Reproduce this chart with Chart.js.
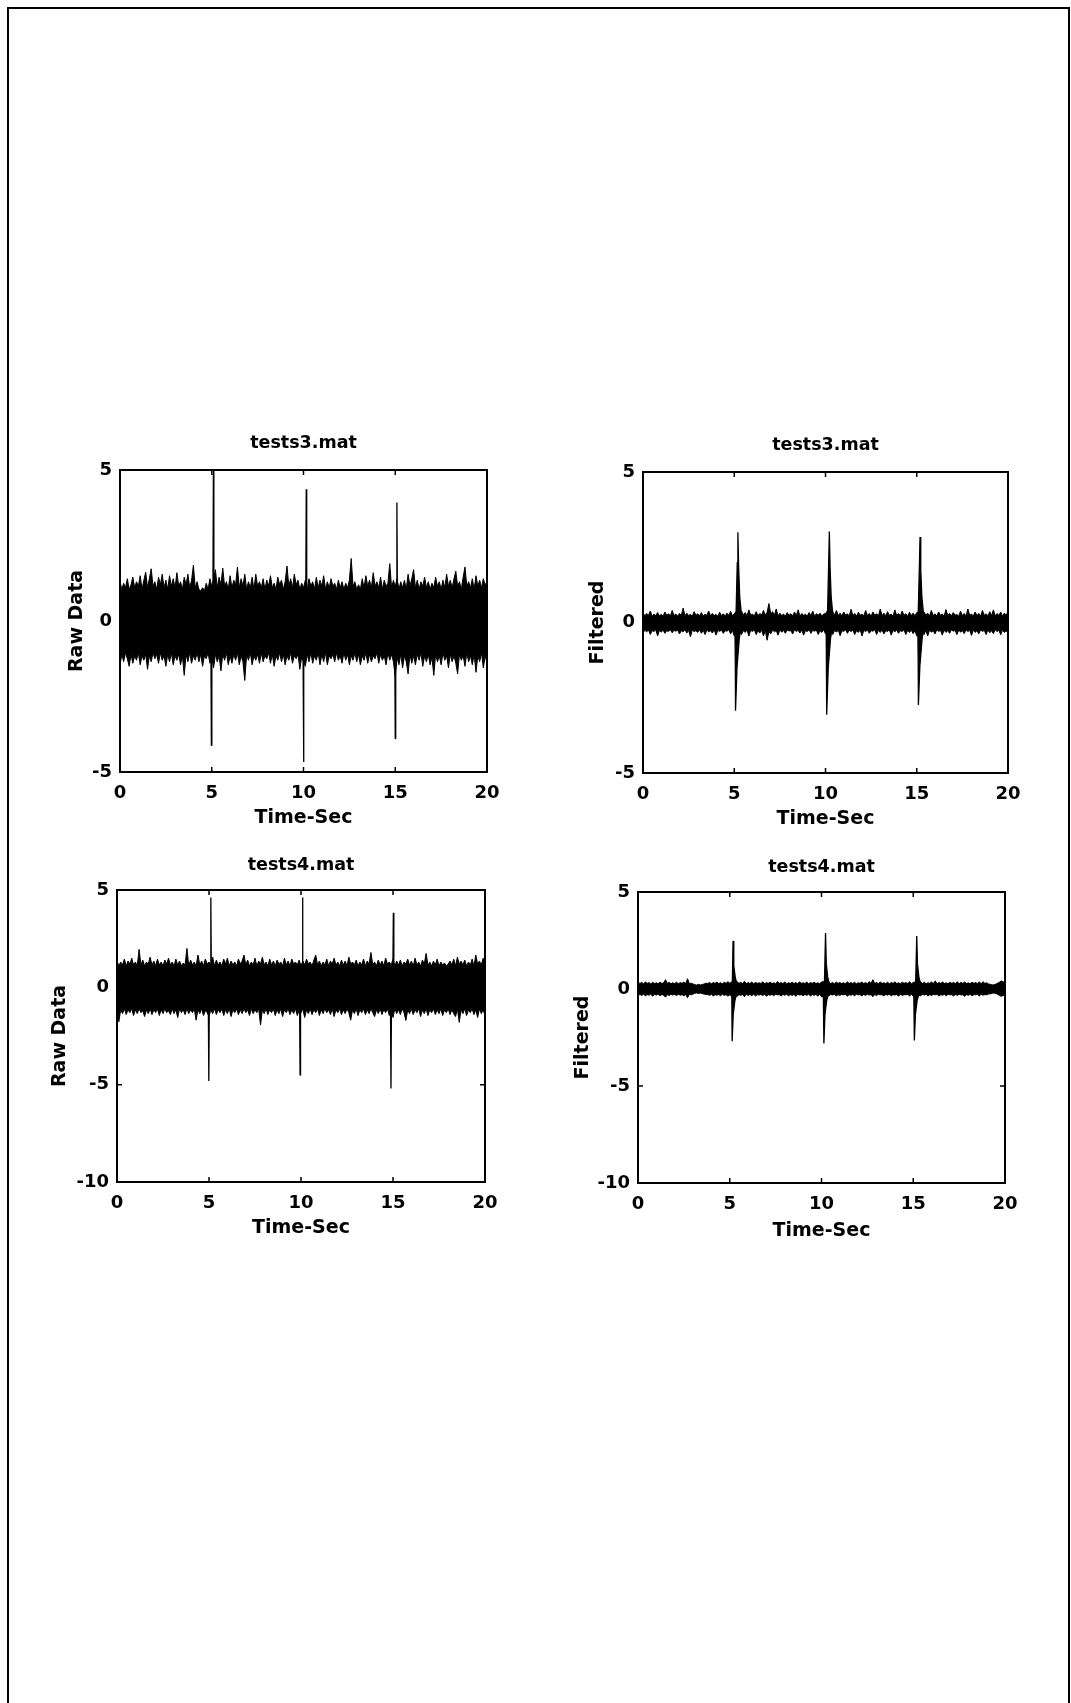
<!DOCTYPE html>
<html>
<head>
<meta charset="utf-8">
<title>tests3 / tests4 – raw and filtered</title>
<script src="https://cdn.jsdelivr.net/npm/chart.js@4.4.1/dist/chart.umd.min.js"></script>
<style>
  html, body { margin: 0; padding: 0; background: #fff; }
  body { width: 1071px; height: 1703px; overflow: hidden; position: relative; }
  #frame { position: absolute; left: 7px; top: 7px; width: 1063px; height: 1740px;
           border: 2px solid #000; box-sizing: border-box; }
  canvas.panel { position: absolute; }
</style>
</head>
<body>
<div id="frame"></div>
<canvas id="raw3" class="panel"></canvas>
<canvas id="filt3" class="panel"></canvas>
<canvas id="raw4" class="panel"></canvas>
<canvas id="filt4" class="panel"></canvas>
<script>
// ---- sample grid (seconds) for the noise-band envelopes ----
const sampleTimes = [
  0.0, 0.1, 0.2, 0.3, 0.4, 0.5, 0.6, 0.7, 0.8, 0.9,
  1.0, 1.1, 1.2, 1.3, 1.4, 1.5, 1.6, 1.7, 1.8, 1.9,
  2.0, 2.1, 2.2, 2.3, 2.4, 2.5, 2.6, 2.7, 2.8, 2.9,
  3.0, 3.1, 3.2, 3.3, 3.4, 3.5, 3.6, 3.7, 3.8, 3.9,
  4.0, 4.1, 4.2, 4.3, 4.4, 4.5, 4.6, 4.7, 4.8, 4.9,
  5.0, 5.1, 5.2, 5.3, 5.4, 5.5, 5.6, 5.7, 5.8, 5.9,
  6.0, 6.1, 6.2, 6.3, 6.4, 6.5, 6.6, 6.7, 6.8, 6.9,
  7.0, 7.1, 7.2, 7.3, 7.4, 7.5, 7.6, 7.7, 7.8, 7.9,
  8.0, 8.1, 8.2, 8.3, 8.4, 8.5, 8.6, 8.7, 8.8, 8.9,
  9.0, 9.1, 9.2, 9.3, 9.4, 9.5, 9.6, 9.7, 9.8, 9.9,
  10.0, 10.1, 10.2, 10.3, 10.4, 10.5, 10.6, 10.7, 10.8, 10.9,
  11.0, 11.1, 11.2, 11.3, 11.4, 11.5, 11.6, 11.7, 11.8, 11.9,
  12.0, 12.1, 12.2, 12.3, 12.4, 12.5, 12.6, 12.7, 12.8, 12.9,
  13.0, 13.1, 13.2, 13.3, 13.4, 13.5, 13.6, 13.7, 13.8, 13.9,
  14.0, 14.1, 14.2, 14.3, 14.4, 14.5, 14.6, 14.7, 14.8, 14.9,
  15.0, 15.1, 15.2, 15.3, 15.4, 15.5, 15.6, 15.7, 15.8, 15.9,
  16.0, 16.1, 16.2, 16.3, 16.4, 16.5, 16.6, 16.7, 16.8, 16.9,
  17.0, 17.1, 17.2, 17.3, 17.4, 17.5, 17.6, 17.7, 17.8, 17.9,
  18.0, 18.1, 18.2, 18.3, 18.4, 18.5, 18.6, 18.7, 18.8, 18.9,
  19.0, 19.1, 19.2, 19.3, 19.4, 19.5, 19.6, 19.7, 19.8, 19.9, 20.0
];

// ---- tick labels ----
const timeTicks = [0, 5, 10, 15, 20];
const ampTicksShort = [-5, 0, 5];
const ampTicksLong = [-10, -5, 0, 5];

// ---- tests3.mat, raw data: upper / lower edge of the noise band ----
const raw3Upper = [
  1.30, 1.05, 1.25, 1.10, 1.40, 1.05, 1.20, 1.45, 1.10, 1.30,
  1.15, 1.50, 1.05, 1.35, 1.62, 1.10, 1.40, 1.73, 1.15, 1.30,
  1.05, 1.45, 1.20, 1.55, 1.10, 1.35, 1.05, 1.50, 1.15, 1.40,
  1.10, 1.60, 1.15, 1.30, 1.05, 1.45, 1.20, 1.55, 1.10, 1.35,
  1.85, 1.10, 1.30, 1.05, 1.00, 1.10, 1.00, 1.25, 1.05, 1.40,
  1.15, 1.35, 1.70, 1.10, 1.45, 1.20, 1.75, 1.15, 1.30, 1.05,
  1.50, 1.10, 1.35, 1.20, 1.79, 1.10, 1.40, 1.15, 1.55, 1.05,
  1.30, 1.10, 1.45, 1.05, 1.55, 1.15, 1.30, 1.10, 1.40, 1.05,
  1.35, 1.15, 1.50, 1.10, 1.25, 1.05, 1.45, 1.20, 1.35, 1.05,
  1.30, 1.82, 1.15, 1.40, 1.10, 1.55, 1.20, 1.35, 1.05, 1.25,
  1.10, 1.35, 1.05, 1.40, 1.15, 1.30, 1.05, 1.45, 1.10, 1.35,
  1.15, 1.50, 1.05, 1.30, 1.10, 1.40, 1.15, 1.25, 1.05, 1.35,
  1.10, 1.30, 1.05, 1.25, 1.10, 1.35, 2.07, 1.15, 1.30, 1.05,
  1.20, 1.05, 1.40, 1.10, 1.50, 1.15, 1.35, 1.10, 1.60, 1.15,
  1.30, 1.10, 1.45, 1.05, 1.35, 1.15, 1.25, 1.90, 1.10, 1.35,
  1.15, 1.40, 1.05, 1.30, 1.10, 1.35, 1.05, 1.55, 1.15, 1.40,
  1.70, 1.10, 1.35, 1.05, 1.30, 1.15, 1.45, 1.10, 1.30, 1.05,
  1.25, 1.10, 1.45, 1.15, 1.30, 1.05, 1.35, 1.10, 1.55, 1.15,
  1.35, 1.10, 1.40, 1.65, 1.15, 1.30, 1.05, 1.45, 1.79, 1.15,
  1.30, 1.10, 1.40, 1.05, 1.50, 1.15, 1.35, 1.10, 1.40, 1.20, 1.30
];
const raw3Lower = [
  -1.47, -1.10, -1.35, -1.05, -1.25, -1.50, -1.10, -1.40, -1.15, -1.30,
  -1.05, -1.45, -1.15, -1.30, -1.10, -1.60, -1.15, -1.35, -1.05, -1.25,
  -1.10, -1.40, -1.05, -1.30, -1.15, -1.50, -1.10, -1.35, -1.05, -1.45,
  -1.15, -1.30, -1.10, -1.45, -1.15, -1.80, -1.10, -1.35, -1.05, -1.40,
  -1.15, -1.30, -1.05, -1.35, -1.10, -1.50, -1.15, -1.25, -1.05, -1.40,
  -1.20, -1.55, -1.10, -1.35, -1.15, -1.65, -1.10, -1.30, -1.05, -1.45,
  -1.15, -1.40, -1.10, -1.30, -1.05, -1.45, -1.15, -1.35, -1.97, -1.10,
  -1.30, -1.05, -1.45, -1.15, -1.30, -1.10, -1.40, -1.05, -1.35, -1.15,
  -1.25, -1.05, -1.40, -1.10, -1.50, -1.15, -1.30, -1.05, -1.35, -1.10,
  -1.45, -1.15, -1.30, -1.05, -1.40, -1.15, -1.25, -1.10, -1.60, -1.20,
  -1.35, -1.50, -1.10, -1.35, -1.05, -1.40, -1.15, -1.30, -1.05, -1.45,
  -1.10, -1.35, -1.05, -1.45, -1.15, -1.25, -1.10, -1.35, -1.05, -1.30,
  -1.15, -1.40, -1.05, -1.30, -1.10, -1.45, -1.15, -1.30, -1.05, -1.35,
  -1.10, -1.45, -1.15, -1.30, -1.05, -1.40, -1.10, -1.35, -1.15, -1.25,
  -1.05, -1.40, -1.10, -1.30, -1.15, -1.45, -1.05, -1.30, -1.10, -1.35,
  -1.85, -1.20, -1.45, -1.10, -1.55, -1.15, -1.35, -1.75, -1.10, -1.40,
  -1.15, -1.45, -1.10, -1.30, -1.05, -1.50, -1.15, -1.35, -1.10, -1.45,
  -1.20, -1.80, -1.10, -1.35, -1.15, -1.45, -1.05, -1.30, -1.15, -1.55,
  -1.10, -1.35, -1.15, -1.40, -1.75, -1.10, -1.30, -1.15, -1.50, -1.05,
  -1.35, -1.15, -1.45, -1.10, -1.70, -1.15, -1.35, -1.05, -1.55, -1.15, -1.40
];
// spike outlines: vertex times and values, one list per spike
const raw3SpikeT = [
  [4.955, 4.98, 5.005], [5.065, 5.09, 5.115],
  [9.975, 10.00, 10.025], [10.125, 10.15, 10.175],
  [14.975, 15.00, 15.025], [15.065, 15.09, 15.115]
];
const raw3SpikeV = [
  [-1.0, -4.12, -1.0], [1.0, 5.0, 1.0],
  [-1.0, -4.67, -1.0], [1.0, 4.36, 1.0],
  [-1.0, -3.89, -1.0], [1.0, 3.92, 1.0]
];

// ---- tests3.mat, filtered ----
const filt3Upper = [
  0.32, 0.22, 0.30, 0.24, 0.38, 0.21, 0.28, 0.23, 0.33, 0.22,
  0.27, 0.21, 0.35, 0.24, 0.29, 0.22, 0.40, 0.23, 0.28, 0.21,
  0.30, 0.24, 0.48, 0.22, 0.31, 0.23, 0.27, 0.21, 0.36, 0.24,
  0.29, 0.22, 0.33, 0.21, 0.28, 0.24, 0.38, 0.22, 0.30, 0.23,
  0.27, 0.21, 0.34, 0.23, 0.29, 0.22, 0.31, 0.24, 0.37, 0.22,
  0.30, 0.35, 0.55, 0.30, 0.38, 0.25, 0.33, 0.22, 0.42, 0.24,
  0.28, 0.22, 0.36, 0.23, 0.30, 0.25, 0.40, 0.24, 0.34, 0.63,
  0.28, 0.36, 0.24, 0.45, 0.22, 0.31, 0.23, 0.28, 0.21, 0.33,
  0.24, 0.29, 0.22, 0.35, 0.23, 0.42, 0.21, 0.30, 0.24, 0.27,
  0.22, 0.33, 0.23, 0.38, 0.21, 0.29, 0.24, 0.31, 0.22, 0.28,
  0.30, 0.38, 0.50, 0.28, 0.36, 0.24, 0.40, 0.23, 0.31, 0.22,
  0.35, 0.24, 0.29, 0.22, 0.44, 0.23, 0.30, 0.21, 0.34, 0.24,
  0.28, 0.22, 0.40, 0.23, 0.30, 0.21, 0.35, 0.24, 0.29, 0.22,
  0.45, 0.23, 0.31, 0.22, 0.36, 0.24, 0.28, 0.21, 0.42, 0.23,
  0.30, 0.22, 0.38, 0.24, 0.29, 0.21, 0.34, 0.23, 0.31, 0.22,
  0.33, 0.36, 0.52, 0.28, 0.35, 0.24, 0.31, 0.22, 0.40, 0.23,
  0.29, 0.22, 0.35, 0.24, 0.28, 0.21, 0.43, 0.23, 0.30, 0.22,
  0.33, 0.24, 0.27, 0.21, 0.38, 0.23, 0.30, 0.22, 0.45, 0.24,
  0.28, 0.22, 0.35, 0.23, 0.30, 0.21, 0.40, 0.24, 0.29, 0.22,
  0.36, 0.23, 0.42, 0.22, 0.30, 0.24, 0.35, 0.21, 0.31, 0.23, 0.38
];
const filt3Lower = [
  -0.34, -0.26, -0.31, -0.25, -0.40, -0.27, -0.30, -0.24, -0.45, -0.26,
  -0.32, -0.25, -0.36, -0.27, -0.30, -0.24, -0.34, -0.26, -0.29, -0.25,
  -0.38, -0.27, -0.31, -0.24, -0.35, -0.26, -0.48, -0.25, -0.30, -0.27,
  -0.33, -0.24, -0.36, -0.26, -0.40, -0.25, -0.31, -0.27, -0.35, -0.24,
  -0.42, -0.26, -0.30, -0.25, -0.36, -0.27, -0.29, -0.24, -0.38, -0.26,
  -0.45, -0.40, -0.50, -0.32, -0.40, -0.27, -0.33, -0.25, -0.45, -0.26,
  -0.30, -0.24, -0.40, -0.27, -0.35, -0.25, -0.45, -0.26, -0.59, -0.30,
  -0.38, -0.25, -0.31, -0.27, -0.42, -0.24, -0.32, -0.26, -0.36, -0.25,
  -0.28, -0.27, -0.38, -0.24, -0.30, -0.26, -0.35, -0.25, -0.42, -0.27,
  -0.30, -0.24, -0.36, -0.26, -0.29, -0.25, -0.40, -0.27, -0.33, -0.24,
  -0.38, -0.42, -0.50, -0.30, -0.40, -0.26, -0.32, -0.25, -0.44, -0.27,
  -0.30, -0.24, -0.36, -0.26, -0.30, -0.25, -0.40, -0.27, -0.33, -0.24,
  -0.45, -0.26, -0.30, -0.25, -0.36, -0.27, -0.29, -0.24, -0.40, -0.26,
  -0.33, -0.25, -0.38, -0.27, -0.30, -0.24, -0.42, -0.26, -0.31, -0.25,
  -0.36, -0.27, -0.30, -0.24, -0.40, -0.26, -0.33, -0.25, -0.37, -0.27,
  -0.45, -0.42, -0.50, -0.30, -0.40, -0.26, -0.45, -0.25, -0.32, -0.27,
  -0.38, -0.24, -0.30, -0.26, -0.42, -0.25, -0.33, -0.27, -0.36, -0.24,
  -0.29, -0.26, -0.40, -0.25, -0.32, -0.27, -0.37, -0.24, -0.30, -0.26,
  -0.43, -0.25, -0.33, -0.27, -0.38, -0.24, -0.30, -0.26, -0.40, -0.25,
  -0.34, -0.27, -0.37, -0.24, -0.30, -0.26, -0.41, -0.25, -0.33, -0.27, -0.36
];
const filt3SpikeT = [
  [5.10, 5.165, 5.20, 5.24, 5.30, 5.38], [5.04, 5.06, 5.07, 5.15, 5.28, 5.34],
  [10.11, 10.175, 10.21, 10.25, 10.31, 10.39], [10.04, 10.06, 10.07, 10.15, 10.28, 10.34],
  [15.08, 15.145, 15.18, 15.22, 15.28, 15.36], [15.06, 15.08, 15.09, 15.17, 15.30, 15.36]
];
const filt3SpikeV = [
  [0.3, 2.0, 3.00, 1.85, 0.85, 0.35], [-0.3, -1.5, -2.93, -1.5, -0.5, -0.3],
  [0.3, 2.0, 3.02, 1.85, 0.85, 0.35], [-0.3, -1.5, -3.06, -1.5, -0.5, -0.3],
  [0.3, 1.9, 2.84, 1.75, 0.85, 0.35], [-0.3, -1.4, -2.74, -1.45, -0.5, -0.3]
];

// ---- tests4.mat, raw data ----
const raw4Upper = [
  1.35, 1.10, 1.30, 1.15, 1.45, 1.10, 1.35, 1.20, 1.50, 1.15,
  1.30, 1.10, 1.95, 1.15, 1.40, 1.10, 1.30, 1.20, 1.55, 1.15,
  1.35, 1.10, 1.45, 1.15, 1.30, 1.10, 1.40, 1.20, 1.50, 1.15,
  1.30, 1.10, 1.45, 1.15, 1.35, 1.10, 1.25, 1.15, 2.00, 1.10,
  1.40, 1.15, 1.30, 1.10, 1.66, 1.15, 1.35, 1.10, 1.45, 1.20,
  1.30, 1.15, 1.55, 1.10, 1.40, 1.15, 1.30, 1.10, 1.45, 1.20,
  1.50, 1.10, 1.35, 1.15, 1.30, 1.10, 1.45, 1.20, 1.35, 1.66,
  1.15, 1.40, 1.10, 1.30, 1.15, 1.50, 1.10, 1.35, 1.20, 1.55,
  1.15, 1.30, 1.10, 1.45, 1.15, 1.35, 1.10, 1.40, 1.20, 1.30,
  1.10, 1.50, 1.15, 1.35, 1.10, 1.45, 1.20, 1.30, 1.15, 1.40,
  1.10, 1.35, 1.15, 1.45, 1.20, 1.30, 1.10, 1.40, 1.66, 1.15,
  1.35, 1.10, 1.30, 1.15, 1.45, 1.10, 1.35, 1.20, 1.50, 1.15,
  1.30, 1.10, 1.40, 1.15, 1.35, 1.10, 1.55, 1.20, 1.30, 1.15,
  1.40, 1.10, 1.30, 1.15, 1.45, 1.10, 1.35, 1.20, 1.79, 1.15,
  1.30, 1.10, 1.40, 1.15, 1.35, 1.10, 1.50, 1.20, 1.30, 1.15,
  1.45, 1.10, 1.35, 1.15, 1.40, 1.10, 1.30, 1.20, 1.45, 1.15,
  1.35, 1.10, 1.50, 1.15, 1.30, 1.10, 1.40, 1.20, 1.74, 1.15,
  1.30, 1.10, 1.35, 1.15, 1.45, 1.10, 1.30, 1.15, 1.25, 1.10,
  1.20, 1.35, 1.15, 1.45, 1.10, 1.55, 1.20, 1.35, 1.15, 1.40,
  1.10, 1.30, 1.15, 1.45, 1.10, 1.66, 1.20, 1.35, 1.15, 1.50, 1.35
];
const raw4Lower = [
  -1.45, -1.77, -1.15, -1.35, -1.10, -1.40, -1.15, -1.30, -1.10, -1.45,
  -1.15, -1.35, -1.10, -1.30, -1.20, -1.50, -1.15, -1.35, -1.10, -1.40,
  -1.15, -1.30, -1.10, -1.45, -1.15, -1.35, -1.10, -1.30, -1.20, -1.40,
  -1.10, -1.35, -1.15, -1.55, -1.10, -1.30, -1.15, -1.40, -1.10, -1.35,
  -1.15, -1.30, -1.10, -1.69, -1.15, -1.35, -1.10, -1.45, -1.20, -1.30,
  -1.50, -1.15, -1.35, -1.10, -1.40, -1.15, -1.30, -1.10, -1.45, -1.15,
  -1.35, -1.10, -1.50, -1.15, -1.30, -1.10, -1.40, -1.15, -1.35, -1.10,
  -1.30, -1.15, -1.45, -1.10, -1.35, -1.15, -1.30, -1.10, -1.94, -1.15,
  -1.35, -1.10, -1.40, -1.15, -1.30, -1.10, -1.45, -1.15, -1.35, -1.10,
  -1.50, -1.15, -1.30, -1.10, -1.40, -1.15, -1.35, -1.10, -1.45, -1.15,
  -1.30, -1.10, -1.55, -1.15, -1.35, -1.10, -1.40, -1.15, -1.30, -1.10,
  -1.45, -1.15, -1.35, -1.10, -1.30, -1.15, -1.40, -1.10, -1.50, -1.15,
  -1.30, -1.10, -1.40, -1.15, -1.35, -1.10, -1.30, -1.69, -1.15, -1.35,
  -1.10, -1.45, -1.15, -1.30, -1.10, -1.40, -1.15, -1.35, -1.10, -1.30,
  -1.50, -1.15, -1.35, -1.10, -1.40, -1.15, -1.30, -1.10, -1.45, -1.15,
  -1.55, -1.10, -1.35, -1.15, -1.40, -1.10, -1.30, -1.70, -1.15, -1.35,
  -1.10, -1.40, -1.15, -1.30, -1.10, -1.50, -1.15, -1.35, -1.10, -1.45,
  -1.15, -1.30, -1.10, -1.40, -1.15, -1.35, -1.10, -1.45, -1.15, -1.30,
  -1.10, -1.40, -1.15, -1.35, -1.50, -1.10, -1.80, -1.15, -1.35, -1.10,
  -1.45, -1.15, -1.30, -1.10, -1.40, -1.15, -1.55, -1.10, -1.35, -1.15, -1.45
];
const raw4SpikeT = [
  [4.965, 4.99, 5.015], [5.075, 5.10, 5.125],
  [9.925, 9.95, 9.975], [10.055, 10.08, 10.105],
  [14.865, 14.89, 14.915], [14.995, 15.02, 15.045]
];
const raw4SpikeV = [
  [-1.0, -4.81, -1.0], [1.0, 4.62, 1.0],
  [-1.0, -4.51, -1.0], [1.0, 4.62, 1.0],
  [-1.0, -5.20, -1.0], [1.0, 3.83, 1.0]
];

// ---- tests4.mat, filtered ----
const filt4Upper = [
  0.38, 0.28, 0.34, 0.27, 0.36, 0.29, 0.33, 0.26, 0.35, 0.28,
  0.32, 0.27, 0.36, 0.28, 0.33, 0.48, 0.29, 0.34, 0.27, 0.32,
  0.28, 0.35, 0.27, 0.33, 0.29, 0.36, 0.28, 0.53, 0.27, 0.30,
  0.26, 0.22, 0.20, 0.24, 0.21, 0.23, 0.26, 0.30, 0.28, 0.34,
  0.27, 0.33, 0.29, 0.36, 0.28, 0.32, 0.27, 0.35, 0.29, 0.38,
  0.30, 0.36, 0.45, 0.33, 0.38, 0.29, 0.34, 0.28, 0.40, 0.27,
  0.33, 0.28, 0.36, 0.27, 0.34, 0.29, 0.32, 0.28, 0.37, 0.27,
  0.33, 0.29, 0.35, 0.28, 0.32, 0.27, 0.38, 0.29, 0.33, 0.28,
  0.36, 0.27, 0.32, 0.29, 0.35, 0.28, 0.33, 0.27, 0.37, 0.29,
  0.32, 0.28, 0.36, 0.27, 0.33, 0.29, 0.35, 0.28, 0.32, 0.27,
  0.36, 0.38, 0.45, 0.33, 0.37, 0.28, 0.34, 0.27, 0.36, 0.29,
  0.33, 0.28, 0.32, 0.27, 0.37, 0.29, 0.33, 0.28, 0.35, 0.27,
  0.32, 0.29, 0.36, 0.28, 0.33, 0.27, 0.38, 0.29, 0.48, 0.28,
  0.34, 0.27, 0.36, 0.29, 0.32, 0.28, 0.35, 0.27, 0.33, 0.29,
  0.37, 0.28, 0.32, 0.27, 0.35, 0.29, 0.33, 0.28, 0.38, 0.27,
  0.34, 0.36, 0.45, 0.33, 0.37, 0.28, 0.35, 0.27, 0.32, 0.29,
  0.36, 0.28, 0.42, 0.27, 0.33, 0.29, 0.36, 0.28, 0.32, 0.27,
  0.35, 0.29, 0.33, 0.28, 0.38, 0.27, 0.34, 0.29, 0.36, 0.28,
  0.32, 0.27, 0.35, 0.29, 0.33, 0.28, 0.37, 0.27, 0.38, 0.29,
  0.32, 0.26, 0.24, 0.21, 0.22, 0.25, 0.30, 0.35, 0.42, 0.36, 0.38
];
const filt4Lower = [
  -0.36, -0.28, -0.33, -0.27, -0.35, -0.29, -0.32, -0.26, -0.37, -0.28,
  -0.31, -0.27, -0.35, -0.28, -0.32, -0.42, -0.29, -0.33, -0.27, -0.31,
  -0.28, -0.34, -0.27, -0.32, -0.29, -0.35, -0.28, -0.45, -0.27, -0.30,
  -0.26, -0.22, -0.20, -0.23, -0.21, -0.24, -0.26, -0.29, -0.28, -0.33,
  -0.27, -0.36, -0.29, -0.32, -0.28, -0.35, -0.27, -0.33, -0.29, -0.37,
  -0.30, -0.36, -0.42, -0.35, -0.38, -0.29, -0.33, -0.28, -0.40, -0.27,
  -0.33, -0.28, -0.35, -0.27, -0.36, -0.29, -0.31, -0.28, -0.34, -0.27,
  -0.37, -0.29, -0.32, -0.28, -0.35, -0.27, -0.30, -0.29, -0.36, -0.28,
  -0.32, -0.27, -0.35, -0.29, -0.33, -0.28, -0.38, -0.27, -0.31, -0.29,
  -0.35, -0.28, -0.33, -0.27, -0.36, -0.29, -0.32, -0.28, -0.37, -0.27,
  -0.40, -0.38, -0.42, -0.33, -0.36, -0.28, -0.31, -0.27, -0.36, -0.29,
  -0.33, -0.28, -0.30, -0.27, -0.37, -0.29, -0.32, -0.28, -0.35, -0.27,
  -0.30, -0.29, -0.36, -0.28, -0.33, -0.27, -0.31, -0.29, -0.40, -0.28,
  -0.34, -0.27, -0.30, -0.29, -0.36, -0.28, -0.32, -0.27, -0.35, -0.29,
  -0.31, -0.28, -0.37, -0.27, -0.33, -0.29, -0.30, -0.28, -0.36, -0.27,
  -0.38, -0.40, -0.43, -0.33, -0.35, -0.28, -0.31, -0.27, -0.36, -0.29,
  -0.33, -0.28, -0.30, -0.27, -0.37, -0.29, -0.32, -0.28, -0.35, -0.27,
  -0.30, -0.29, -0.36, -0.28, -0.33, -0.27, -0.31, -0.29, -0.38, -0.28,
  -0.33, -0.27, -0.35, -0.29, -0.30, -0.28, -0.36, -0.27, -0.32, -0.29,
  -0.30, -0.26, -0.25, -0.22, -0.21, -0.23, -0.28, -0.33, -0.38, -0.33, -0.36
];
const filt4SpikeT = [
  [5.14, 5.18, 5.22, 5.30, 5.38], [5.11, 5.13, 5.19, 5.28, 5.36],
  [10.16, 10.22, 10.26, 10.34, 10.42], [10.10, 10.13, 10.19, 10.28, 10.36],
  [15.13, 15.19, 15.23, 15.31, 15.39], [15.03, 15.06, 15.12, 15.21, 15.30]
];
const filt4SpikeV = [
  [0.3, 2.48, 1.2, 0.6, 0.3], [-0.3, -2.69, -1.3, -0.6, -0.3],
  [0.3, 2.89, 1.3, 0.6, 0.3], [-0.3, -2.81, -1.3, -0.6, -0.3],
  [0.3, 2.73, 1.3, 0.6, 0.3], [-0.3, -2.65, -1.3, -0.6, -0.3]
];

// ---------------------------------------------------------------
const FONT = 'DejaVu Sans';
const TICK_FONT = { family: FONT, size: 18, weight: 'bold', lineHeight: 1.2 };
const TITLE_FONT = { family: FONT, size: 17.5, weight: 'bold', lineHeight: 1.2 };
const AXIS_FONT = { family: FONT, size: 19, weight: 'bold', lineHeight: 1.2 };

// room around each plot box inside its canvas
const PAD_L = 80, PAD_T = 50, PAD_R = 30, PAD_B = 70;

function points(times, values) {
  return times.map((t, i) => ({ x: t, y: values[i] }));
}

// plot frame with inward tick marks on all four sides
const boxPlugin = {
  id: 'box',
  afterDatasetsDraw(chart) {
    const { ctx, chartArea: { left, top, right, bottom }, scales: { x, y } } = chart;
    ctx.save();
    ctx.strokeStyle = '#000';
    ctx.lineWidth = 2;
    ctx.strokeRect(left, top, right - left, bottom - top);
    ctx.lineWidth = 1.5;
    ctx.beginPath();
    x.ticks.forEach(t => {
      const px = x.getPixelForValue(t.value);
      ctx.moveTo(px, bottom); ctx.lineTo(px, bottom - 5);
      ctx.moveTo(px, top); ctx.lineTo(px, top + 5);
    });
    y.ticks.forEach(t => {
      const py = y.getPixelForValue(t.value);
      ctx.moveTo(left, py); ctx.lineTo(left + 5, py);
      ctx.moveTo(right, py); ctx.lineTo(right - 5, py);
    });
    ctx.stroke();
    ctx.restore();
  }
};

function makePanel(p) {
  const canvas = document.getElementById(p.id);
  const w = p.R - p.L + PAD_L + PAD_R;
  const h = p.B - p.T + PAD_T + PAD_B;
  canvas.width = w; canvas.height = h;
  canvas.style.width = w + 'px'; canvas.style.height = h + 'px';
  canvas.style.left = (p.L - PAD_L) + 'px';
  canvas.style.top = (p.T - PAD_T) + 'px';

  const titleLH = TITLE_FONT.size * TITLE_FONT.lineHeight;
  const axisLH = AXIS_FONT.size * AXIS_FONT.lineHeight;
  const titleTop = p.titleY - (p.T - PAD_T) - titleLH / 2;
  const yTitlePad = p.ylabX - (p.L - PAD_L) - axisLH / 2;
  const xTitlePad = (p.B + PAD_B) - p.xlabY - axisLH / 2;

  const lineStyle = { borderColor: '#000', backgroundColor: '#000', pointRadius: 0,
                      tension: 0, borderJoinStyle: 'bevel' };
  const datasets = [
    Object.assign({ data: points(sampleTimes, p.upper), fill: '+1', borderWidth: 1 }, lineStyle),
    Object.assign({ data: points(sampleTimes, p.lower), fill: false, borderWidth: 1 }, lineStyle)
  ];
  p.spikeT.forEach((ts, k) => {
    datasets.push(Object.assign({ data: points(ts, p.spikeV[k]), fill: 'origin', borderWidth: 1.3 }, lineStyle));
  });

  new Chart(canvas, {
    type: 'line',
    data: { datasets },
    plugins: [boxPlugin],
    options: {
      responsive: false,
      maintainAspectRatio: false,
      animation: false,
      devicePixelRatio: 1,
      layout: { padding: { left: 0, top: 0, right: PAD_R, bottom: 0 } },
      plugins: {
        legend: { display: false },
        tooltip: { enabled: false },
        title: {
          display: true, text: p.title, color: '#000', font: TITLE_FONT, fullSize: false,
          padding: { top: titleTop, bottom: PAD_T - titleTop - titleLH }
        }
      },
      scales: {
        x: {
          type: 'linear', min: 0, max: 20,
          grid: { display: false, drawTicks: false },
          border: { display: false },
          afterBuildTicks: s => { s.ticks = timeTicks.map(v => ({ value: v })); },
          afterFit: s => { s.height = PAD_B; },
          ticks: { color: '#000', font: TICK_FONT, padding: 11, autoSkip: false, maxRotation: 0 },
          title: { display: true, text: 'Time-Sec', color: '#000', font: AXIS_FONT,
                   padding: { top: 0, bottom: xTitlePad } }
        },
        y: {
          type: 'linear', min: p.yMin, max: 5,
          grid: { display: false, drawTicks: false },
          border: { display: false },
          afterBuildTicks: s => { s.ticks = p.yTicks.map(v => ({ value: v })); },
          afterFit: s => { s.width = PAD_L; },
          ticks: { color: '#000', font: TICK_FONT, padding: 8, autoSkip: false },
          title: { display: true, text: p.yTitle, color: '#000', font: AXIS_FONT,
                   padding: { top: yTitlePad, bottom: 0 } }
        }
      }
    }
  });
}

const panelSpecs = [
  { id: 'raw3', title: 'tests3.mat', yTitle: 'Raw Data', yMin: -5, yTicks: ampTicksShort,
    upper: raw3Upper, lower: raw3Lower, spikeT: raw3SpikeT, spikeV: raw3SpikeV,
    L: 120, T: 470, R: 487, B: 772, titleY: 443, ylabX: 77, xlabY: 818 },
  { id: 'filt3', title: 'tests3.mat', yTitle: 'Filtered', yMin: -5, yTicks: ampTicksShort,
    upper: filt3Upper, lower: filt3Lower, spikeT: filt3SpikeT, spikeV: filt3SpikeV,
    L: 643, T: 472, R: 1008, B: 773, titleY: 445, ylabX: 598, xlabY: 819 },
  { id: 'raw4', title: 'tests4.mat', yTitle: 'Raw Data', yMin: -10, yTicks: ampTicksLong,
    upper: raw4Upper, lower: raw4Lower, spikeT: raw4SpikeT, spikeV: raw4SpikeV,
    L: 117, T: 890, R: 485, B: 1182, titleY: 865, ylabX: 60, xlabY: 1228 },
  { id: 'filt4', title: 'tests4.mat', yTitle: 'Filtered', yMin: -10, yTicks: ampTicksLong,
    upper: filt4Upper, lower: filt4Lower, spikeT: filt4SpikeT, spikeV: filt4SpikeV,
    L: 638, T: 892, R: 1005, B: 1183, titleY: 867, ylabX: 583, xlabY: 1231 }
];

panelSpecs.forEach(makePanel);
</script>
</body>
</html>
